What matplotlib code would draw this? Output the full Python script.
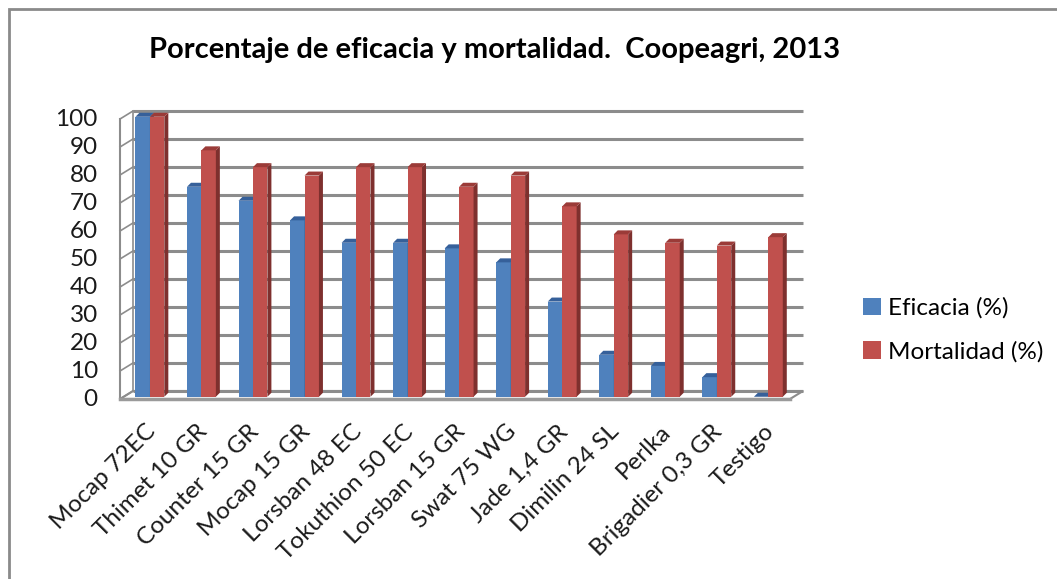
import matplotlib
matplotlib.use("Agg")
import matplotlib.pyplot as plt
from matplotlib.patches import Polygon, Rectangle

# ---------------------
# DATA
# ---------------------
productos = ["Mocap 72EC", "Thimet 10 GR", "Counter 15 GR", "Mocap 15 GR",
             "Lorsban 48 EC", "Tokuthion 50 EC", "Lorsban 15 GR", "Swat 75 WG",
             "Jade 1,4 GR", "Dimilin 24 SL", "Perlka", "Brigadier 0,3 GR", "Testigo"]
eficacia = [100, 75, 70, 63, 55, 55, 53, 48, 34, 15, 11, 7, 0]
mortalidad = [100, 88, 82, 79, 82, 82, 75, 79, 68, 58, 55, 54, 57]
y_ticks = list(range(0, 101, 10))

plt.rcParams["font.family"] = ["Lato", "DejaVu Sans"]

W, H = 1057, 579
fig = plt.figure(figsize=(W / 100, H / 100), dpi=100)

# plot area (front plane) in pixels
left_px, right_px, bottom_px, top_px = 120, 790, 399, 119
ax = fig.add_axes([left_px / W, (H - bottom_px) / H,
                   (right_px - left_px) / W, (bottom_px - top_px) / H])
n = len(productos)
ax.set_xlim(-0.5, n - 0.5)
ax.set_ylim(0, 100)
ax.axis("off")

px_x = (right_px - left_px) / n          # pixels per x unit
px_y = (bottom_px - top_px) / 100.0      # pixels per y unit

# back wall depth offset
dxw, dyw = 13 / px_x, 8 / px_y
# bar depth
ddx, ddy = 4 / px_x, 4 / px_y
z0 = 0.8
grid_c = "#8c8c8c"

x0, x1 = -0.5, n - 0.5
# floor
floor = Polygon([(x0, 0), (x1, 0), (x1 + dxw, dyw), (x0 + dxw, dyw)],
                closed=True, facecolor="white", edgecolor=grid_c, lw=1.5,
                clip_on=False, zorder=1)
ax.add_patch(floor)
# back wall gridlines + left wall ticks
for yv in y_ticks:
    ax.plot([x0 + dxw, x1 + dxw], [yv + dyw, yv + dyw], color=grid_c, lw=2.2,
            clip_on=False, zorder=1, solid_capstyle="butt")
    ax.plot([x0, x0 + dxw], [yv, yv + dyw], color=grid_c, lw=1.2,
            clip_on=False, zorder=1)
ax.plot([x0, x0], [0, 100], color=grid_c, lw=1.5, clip_on=False, zorder=1)
ax.plot([x0 + dxw, x0 + dxw], [dyw, 100 + dyw], color=grid_c, lw=1.2,
        clip_on=False, zorder=1)
ax.plot([x0, x1], [0, 0], color="#9a9a9a", lw=2.5, clip_on=False, zorder=1)

# bars
bw = 0.28
series = [
    (eficacia, -0.06, "#4F81BD", "#3A6393", "#36609A", "Eficacia (%)"),
    (mortalidad, 0.22, "#C0504D", "#7E302E", "#9B3B38", "Mortalidad (%)"),
]
for vals, off, c_front, c_side, c_top, lab in series:
    xs = [i + off for i in range(n)]
    bars = ax.bar(xs, vals, width=bw, bottom=z0, color=c_front, label=lab,
                  zorder=3, clip_on=False)
    for b in bars:
        xl = b.get_x()
        xr = xl + b.get_width()
        top = b.get_y() + b.get_height()
        side = Polygon([(xr, z0), (xr + ddx, z0 + ddy), (xr + ddx, top + ddy),
                        (xr, top)], closed=True, facecolor=c_side,
                       edgecolor="none", zorder=3, clip_on=False)
        cap = Polygon([(xl, top), (xl + ddx, top + ddy), (xr + ddx, top + ddy),
                       (xr, top)], closed=True, facecolor=c_top,
                      edgecolor="none", zorder=3, clip_on=False)
        ax.add_patch(side)
        ax.add_patch(cap)

# y tick labels
for yv in y_ticks:
    ax.text(-0.93, yv, str(yv), ha="right", va="center", fontsize=17.5,
            color="#1a1a1a")

# x tick labels
for i, name in enumerate(productos):
    ax.text(i + 0.12, -10.5, name, ha="right", va="center", rotation=45,
            rotation_mode="anchor", fontsize=17.5, color="#1a1a1a")

# title
fig.text(495 / W, 1 - 50 / H,
         "Porcentaje de eficacia y mortalidad.  Coopeagri, 2013",
         ha="center", va="center", fontsize=21, fontweight="bold")

# legend
leg = fig.legend(loc="center left", bbox_to_anchor=(841 / W, 1 - 330 / H),
                 frameon=False, fontsize=17.5, handlelength=0.75,
                 handleheight=0.75, handletextpad=0.3, labelspacing=0.9)

# chart border
fig.patches.append(Rectangle((9 / W, -0.1), 1.2, 1 - 9 / H + 0.1,
                             transform=fig.transFigure, fill=False,
                             edgecolor="#8a8a8a", lw=2))

fig.savefig("out.png", dpi=100, facecolor="white")
